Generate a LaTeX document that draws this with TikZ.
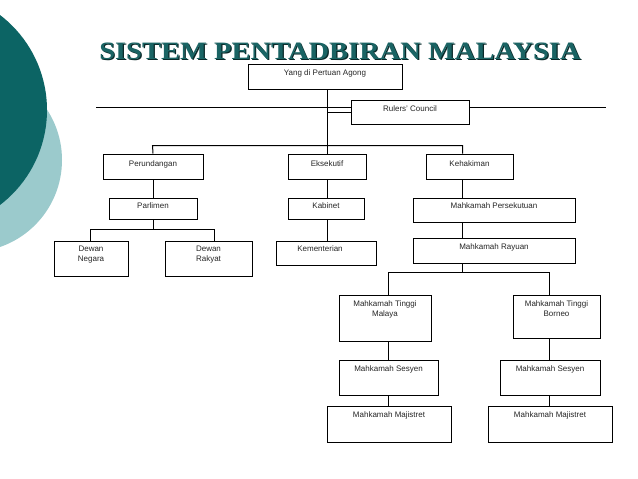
\documentclass[tikz,border=0pt]{standalone}
\usepackage{fontspec}
\setmainfont{Liberation Sans}
\newfontfamily\titlefont{Liberation Serif}
\definecolor{darkteal}{RGB}{12,100,100}
\definecolor{lightteal}{RGB}{155,202,204}
\definecolor{titleteal}{RGB}{26,100,100}
\definecolor{titleshadow}{RGB}{10,40,40}
\begin{document}
\begin{tikzpicture}[x=1pt,y=-1pt,
  bx/.style={draw, fill=white, line width=1pt, inner sep=0pt, anchor=north west},
  lbl/.style={anchor=north, inner sep=0pt, align=center, text=black!85, font=\fontsize{8}{10}\selectfont},
  ln/.style={line width=1pt},
  ttl/.style={anchor=base, inner sep=0pt, font=\titlefont\bfseries\fontsize{25}{25}\selectfont}]
\useasboundingbox (0,0) rectangle (638,479);
\fill[white] (0,0) rectangle (638,479);
\begin{scope}
\clip (0,0) rectangle (638,479);
\fill[lightteal] (-30,160) circle (92pt);
\fill[darkteal] (-72.5,110) circle (119.5pt);
\end{scope}
% title
\node[ttl, text=titleshadow] (titleshadow) at (341.2,60.2) {\scalebox{1.14}[1]{SISTEM PENTADBIRAN MALAYSIA}};
\node[ttl, text=titleteal] (title) at (340,59) {\scalebox{1.14}[1]{SISTEM PENTADBIRAN MALAYSIA}};
% helper coordinates
\coordinate (hl) at (96,107.5);
\coordinate (hr) at (606,107.5);
\coordinate (c152) at (152.5,145.5);
\coordinate (c462) at (462.5,145.5);
\coordinate (c90) at (90.5,229.5);
\coordinate (c214) at (214.5,229.5);
\coordinate (c388) at (388.5,272.5);
\coordinate (c549) at (549.5,272.5);
% long line (behind boxes)
\draw[ln] (hl) -- (hr);
% boxes
\node[bx, minimum width=154pt, minimum height=25pt] (yang) at (247.5,63.5) {};
\node[bx, minimum width=118pt, minimum height=24pt] (rulers) at (350.5,99.5) {};
\node[bx, minimum width=100pt, minimum height=25pt] (perund) at (102.5,153.5) {};
\node[bx, minimum width=78pt, minimum height=25pt] (eksek) at (287.5,153.5) {};
\node[bx, minimum width=87pt, minimum height=25pt] (kehak) at (425.5,153.5) {};
\node[bx, minimum width=88pt, minimum height=21pt] (parlimen) at (108.5,197.5) {};
\node[bx, minimum width=76pt, minimum height=21pt] (kabinet) at (287.5,197.5) {};
\node[bx, minimum width=162pt, minimum height=24pt] (mpers) at (412.5,197.5) {};
\node[bx, minimum width=74pt, minimum height=35pt] (dnegara) at (53.5,240.5) {};
\node[bx, minimum width=87pt, minimum height=35pt] (drakyat) at (164.5,240.5) {};
\node[bx, minimum width=100pt, minimum height=24pt] (kement) at (275.5,240.5) {};
\node[bx, minimum width=162pt, minimum height=25pt] (mrayuan) at (412.5,237.5) {};
\node[bx, minimum width=92pt, minimum height=46pt] (mtmalaya) at (338.5,294.5) {};
\node[bx, minimum width=87pt, minimum height=43pt] (mtborneo) at (512.5,294.5) {};
\node[bx, minimum width=99pt, minimum height=35pt] (msesL) at (338.5,359.5) {};
\node[bx, minimum width=100pt, minimum height=35pt] (msesR) at (499.5,359.5) {};
\node[bx, minimum width=124pt, minimum height=36pt] (mmajL) at (326.5,405.5) {};
\node[bx, minimum width=124pt, minimum height=36pt] (mmajR) at (487.5,405.5) {};
% labels
\node[lbl] (t1) at ([yshift=-6.5pt]yang.north) {Yang di Pertuan Agong};
\node[lbl] (t2) at ([yshift=-6.5pt]rulers.north) {Rulers' Council};
\node[lbl] (t3) at ([yshift=-7pt]perund.north) {Perundangan};
\node[lbl] (t4) at ([yshift=-7pt]eksek.north) {Eksekutif};
\node[lbl] (t5) at ([yshift=-7pt]kehak.north) {Kehakiman};
\node[lbl] (t6) at ([yshift=-5pt]parlimen.north) {Parlimen};
\node[lbl] (t7) at ([yshift=-5pt]kabinet.north) {Kabinet};
\node[lbl] (t8) at ([yshift=-5pt]mpers.north) {Mahkamah Persekutuan};
\node[lbl] (t9) at ([yshift=-5pt]dnegara.north) {Dewan\\Negara};
\node[lbl] (t10) at ([yshift=-5pt]drakyat.north) {Dewan\\Rakyat};
\node[lbl] (t11) at ([xshift=-6pt,yshift=-5pt]kement.north) {Kementerian};
\node[lbl] (t12) at ([yshift=-6pt]mrayuan.north) {Mahkamah Rayuan};
\node[lbl] (t13) at ([yshift=-6pt]mtmalaya.north) {Mahkamah Tinggi\\Malaya};
\node[lbl] (t14) at ([yshift=-6pt]mtborneo.north) {Mahkamah Tinggi\\Borneo};
\node[lbl] (t15) at ([yshift=-6pt]msesL.north) {Mahkamah Sesyen};
\node[lbl] (t16) at ([yshift=-6pt]msesR.north) {Mahkamah Sesyen};
\node[lbl] (t17) at ([yshift=-6pt]mmajL.north) {Mahkamah Majistret};
\node[lbl] (t18) at ([yshift=-6pt]mmajR.north) {Mahkamah Majistret};
% connectors
\draw[ln] (yang.south -| eksek.north) -- (eksek.north);
\draw[ln] (rulers.west -| eksek.north) -- (rulers.west);
\draw[ln] (perund.north) -- (c152) -- (c462) -- (c462 |- kehak.north);
\draw[ln] (perund.south) -- (parlimen.north);
\draw[ln] (parlimen.south) -- (parlimen.south |- c90);
\draw[ln] (c90 |- dnegara.north) -- (c90) -- (c214) -- (c214 |- drakyat.north);
\draw[ln] (eksek.south) -- (eksek.south |- kabinet.north);
\draw[ln] (kabinet.south -| eksek.south) -- (kement.north -| eksek.south);
\draw[ln] (c462 |- kehak.south) -- (c462 |- mpers.north);
\draw[ln] (c462 |- mpers.south) -- (c462 |- mrayuan.north);
\draw[ln] (c462 |- mrayuan.south) -- (c462 |- c388);
\draw[ln] (c388 |- mtmalaya.north) -- (c388) -- (c549) -- (c549 |- mtborneo.north);
\draw[ln] (c388 |- mtmalaya.south) -- (c388 |- msesL.north);
\draw[ln] (c388 |- msesL.south) -- (c388 |- mmajL.north);
\draw[ln] (c549 |- mtborneo.south) -- (c549 |- msesR.north);
\draw[ln] (c549 |- msesR.south) -- (c549 |- mmajR.north);
\end{tikzpicture}
\end{document}
